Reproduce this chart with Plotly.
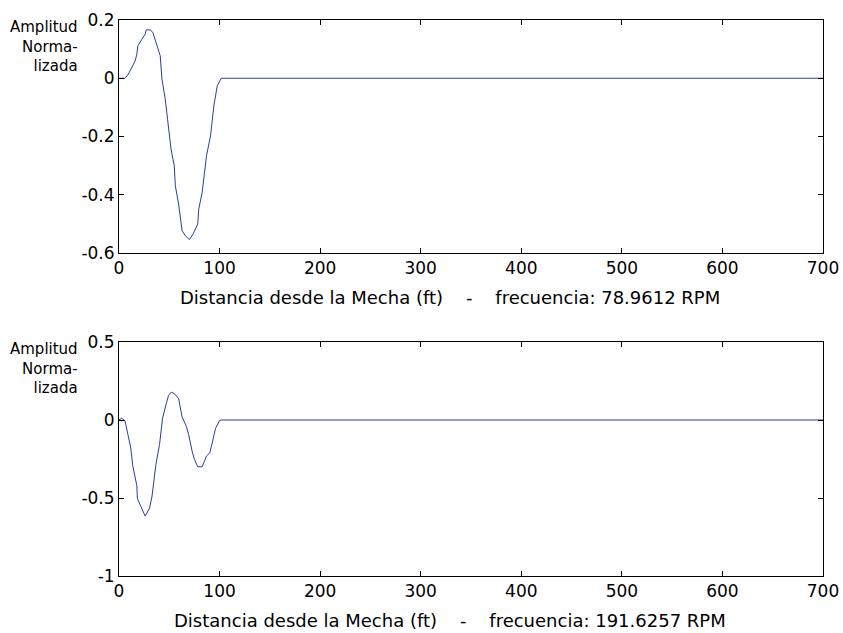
import plotly.graph_objects as go

# ---- data ----
dist_top = [0, 6, 9.3, 12.7, 16, 17.7, 18.7, 22.7, 26, 27, 31, 33.7, 37.7, 41, 42.7, 46, 48.3,
            51.7, 55, 56, 59.3, 62.7, 66, 70, 73.7, 78.3, 79.3, 82.7, 87, 91, 94.3, 97.7, 101.7, 700]
amp_top = [0, 0, 0.014, 0.037, 0.059, 0.082, 0.111, 0.134, 0.151, 0.166, 0.166, 0.157, 0.117, 0.077,
           -0.003, -0.072, -0.141, -0.243, -0.301, -0.369, -0.432, -0.523, -0.541, -0.554, -0.535,
           -0.50, -0.449, -0.392, -0.266, -0.198, -0.095, -0.026, 0, 0]

dist_bot = [0, 2.7, 6, 9.3, 11.7, 13.7, 16, 17.7, 18.3, 21, 26, 30.3, 32.7, 34.3, 36.7, 40.3, 41.7,
            43.3, 47, 49.3, 52, 55.3, 59.3, 62.7, 67, 69.3, 72.7, 75, 78.3, 82.7, 87, 90.3, 92.7,
            96, 100, 101.7, 700]
amp_bot = [0, 0.011, -0.006, -0.095, -0.179, -0.294, -0.357, -0.42, -0.504, -0.546, -0.616, -0.567,
           -0.494, -0.41, -0.284, -0.158, -0.074, 0.011, 0.105, 0.158, 0.179, 0.168, 0.137, 0.021,
           -0.042, -0.095, -0.2, -0.252, -0.3, -0.3, -0.231, -0.21, -0.147, -0.053, -0.004, 0, 0]

x_ticks = [0, 100, 200, 300, 400, 500, 600, 700]
y_ticks_top = [0.2, 0, -0.2, -0.4, -0.6]
y_ticks_bot = [0.5, 0, -0.5, -1]
y_ticklabels_top = ["0.2", "0", "-0.2", "-0.4", "-0.6"]
y_ticklabels_bot = ["0.5", "0", "-0.5", "-1"]
SP = "\u00a0" * 4
xlabel_top = "Distancia desde la Mecha (ft)" + SP + "-" + SP + "frecuencia: 78.9612 RPM"
xlabel_bot = "Distancia desde la Mecha (ft)" + SP + "-" + SP + "frecuencia: 191.6257 RPM"
ylabel = "Amplitud<br>Norma-<br>lizada"

FONT = "DejaVu Sans, Arial, Helvetica, sans-serif"
LINE = "#2b3c9e"

W, H = 843, 633
L, R, T, B = 119, 823, 20, 576
plot_h = B - T

def fy(py):
    return (B - py) / plot_h

def fx(px):
    return (px - L) / (R - L)

fig = go.Figure()
fig.add_trace(go.Scatter(x=dist_top, y=amp_top, mode="lines", line=dict(color=LINE, width=1),
                         xaxis="x", yaxis="y", showlegend=False, hoverinfo="skip"))
fig.add_trace(go.Scatter(x=dist_bot, y=amp_bot, mode="lines", line=dict(color=LINE, width=1),
                         xaxis="x2", yaxis="y2", showlegend=False, hoverinfo="skip"))

axis_common = dict(showgrid=False, zeroline=False, showline=True, linecolor="black", linewidth=1,
                   mirror="ticks", ticks="inside", ticklen=5, tickcolor="black",
                   tickfont=dict(family=FONT, size=17, color="black"))

fig.update_layout(
    width=W, height=H, autosize=False,
    margin=dict(l=L, r=W - R, t=T, b=H - B),
    paper_bgcolor="white", plot_bgcolor="white",
    xaxis=dict(domain=[0, 1], anchor="y", range=[0, 700], tickvals=x_ticks,
               ticktext=[str(v) for v in x_ticks], automargin=False, **axis_common),
    yaxis=dict(domain=[fy(253), 1], anchor="x", range=[-0.6, 0.2], tickvals=y_ticks_top,
               ticktext=y_ticklabels_top, automargin=False, **axis_common),
    xaxis2=dict(domain=[0, 1], anchor="y2", range=[0, 700], tickvals=x_ticks,
                ticktext=[str(v) for v in x_ticks], automargin=False, **axis_common),
    yaxis2=dict(domain=[0, fy(342)], anchor="x2", range=[-1, 0.5], tickvals=y_ticks_bot,
                ticktext=y_ticklabels_bot, automargin=False, **axis_common),
)

ann_font = dict(family=FONT, size=18, color="black")
for label, py in [(xlabel_top, 297), (xlabel_bot, 620)]:
    fig.add_annotation(text=label, xref="paper", yref="paper", x=fx(450), y=fy(py),
                       xanchor="center", yanchor="middle", showarrow=False, font=ann_font)
for py in [46, 368]:
    fig.add_annotation(text=ylabel, xref="paper", yref="paper", x=fx(80), y=fy(py),
                       xanchor="right", yanchor="middle", align="right", showarrow=False,
                       font=dict(family=FONT, size=15, color="black"))

fig.write_html("out.html",
               config={"displayModeBar": False, "responsive": False},
               post_script="document.body.style.margin='0';document.body.style.padding='0';"
                           "document.body.style.overflow='hidden';")
